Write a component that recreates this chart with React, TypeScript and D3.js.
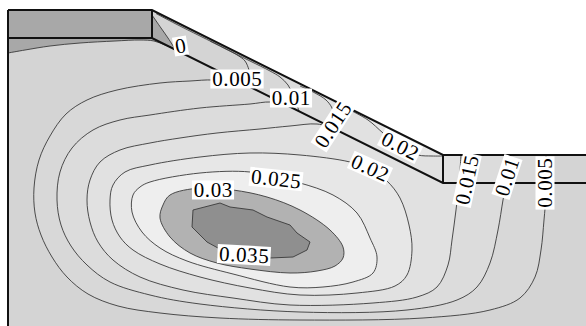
import React, { useEffect } from "react";
import * as d3 from "d3";

type P = [number, number];

const W = 586;
const H = 326;

// Model coordinates: x = distance from the left boundary, y = depth below the crest (reference units)
const groundOutline: P[] = [[0, 0], [144, 0], [435, 145], [578, 145], [578, 316], [0, 316]];
const surfaceLine: P[] = [[0, 0], [144, 0], [435, 145], [578, 145]];
const layerBase: P[] = [[0, 28], [144, 28], [435, 173], [578, 173]];
const crestStep: P[] = [[144, 0], [144, 28]];
const toeStep: P[] = [[435, 145], [435, 173]];
const leftWall: P[] = [[0, 0], [0, 316]];

// contour levels and fill shades (below 0, 0-0.005, ..., above 0.035)
const levels = [0, 0.005, 0.01, 0.015, 0.02, 0.025, 0.03, 0.035];
const shades = ["#a8a8a8", "#d4d4d4", "#d8d8d8", "#dcdcdc", "#e1e1e1", "#e7e7e7", "#eeeeee", "#b2b2b2", "#8f8f8f"];

// contour traces
const band0: P[] = [[144, 5], [153, 18], [160, 28], [167, 39]];
const main0: P[] = [[0, 43], [17, 40], [42, 36], [72, 33], [107, 31], [132, 30], [146, 31], [157, 35], [167, 39]];
const band005: P[] = [[148, 3.5], [167, 13.5], [192, 26], [217, 38.5], [230, 45.5], [237, 51], [241, 60], [243, 70], [244, 78]];
const main005: P[] = [[244, 78], [227, 73], [205, 70], [182, 71], [152, 73], [109, 80], [79, 90], [58, 104], [42, 126], [31, 150], [26, 178], [27, 203], [33, 225], [44, 247], [59, 267], [80, 284], [110, 296], [152, 303], [212, 308], [292, 310], [415, 308], [482, 300], [512, 288], [527, 267], [533, 240], [536, 210], [538, 185], [538, 173], [538, 145]];
const band01: P[] = [[202, 31], [222, 41], [242, 51], [262, 61], [272, 67], [280, 75], [285, 85], [289, 95], [291, 101]];
const main01: P[] = [[291, 101], [277, 95], [262, 92], [242, 94], [192, 98], [142, 105], [112, 110], [85, 120], [64, 138], [52, 162], [49, 190], [53, 215], [63, 236], [79, 255], [102, 272], [142, 285], [192, 294], [292, 302], [399, 300], [449, 290], [469, 277], [482, 253], [490, 220], [495, 190], [498, 173], [499, 145]];
const band015: P[] = [[292, 76], [307, 83], [318, 90], [324, 98], [326, 108], [325, 118]];
const main015: P[] = [[325, 118], [309, 114], [282, 116], [252, 119], [209, 123], [172, 128], [142, 133], [112, 140], [92, 152], [82, 170], [79, 190], [82, 212], [90, 232], [105, 250], [132, 267], [175, 280], [225, 288], [282, 295], [365, 293], [409, 287], [429, 277], [440, 255], [444, 230], [448, 200], [451, 173], [453, 145]];
const band02: P[] = [[342, 100], [360, 110], [375, 123], [392, 137], [410, 145], [424, 146], [435, 146]];
const loop02: P[] = [[142, 155], [192, 147], [242, 143], [292, 145], [342, 152], [362, 159], [379, 171], [392, 188], [401, 215], [404, 240], [399, 265], [387, 276], [349, 283], [292, 285], [242, 278], [192, 267], [152, 254], [125, 240], [112, 227], [104, 210], [102, 190], [105, 175], [117, 162]];
const loop025: P[] = [[142, 172], [192, 163], [242, 162], [268, 168], [292, 173], [325, 185], [349, 203], [362, 228], [369, 247], [365, 263], [345, 272], [315, 277], [282, 277], [225, 264], [179, 251], [152, 238], [134, 222], [124, 202], [125, 185], [132, 177]];
const loop03: P[] = [[162, 185], [192, 178], [225, 180], [259, 187], [292, 200], [322, 220], [335, 237], [335, 248], [327, 256], [309, 261], [282, 263], [242, 259], [209, 253], [182, 243], [162, 227], [152, 208], [155, 195]];
const loop035: P[] = [[185, 200], [212, 193], [222, 197], [245, 200], [259, 207], [282, 215], [289, 223], [302, 232], [299, 240], [285, 247], [262, 248], [242, 247], [219, 243], [199, 232], [184, 217]];

// contour labels
const labelText = ["0", "0.005", "0.01", "0.015", "0.02", "0.02", "0.025", "0.03", "0.035", "0.015", "0.01", "0.005"];
const labelX = [172.5, 229, 283, 325, 392, 362, 268, 205, 236, 459, 499, 537];
const labelY = [36, 69, 88, 115, 136, 158, 169, 180, 245, 170, 167, 173];
const labelAngle = [-10, 0, 0, -57, 27, 24, 6, 0, 3, -78, -72, -90];

const LS = 0.6;
const FS = 21;

function textWidth(s: string) {
  let w = 0;
  for (const c of s) w += c === "." ? FS * 0.25 : FS * 0.5;
  return w + s.length * LS;
}

export default function App() {
  useEffect(() => {
    document.body.style.margin = "0";
  }, []);

  const x = d3.scaleLinear().domain([0, 578]).range([8, 586]);
  const y = d3.scaleLinear().domain([0, 316]).range([10, 326]);
  const slope = d3.scaleLinear().domain([144, 435]).range([0, 145]);

  const smooth = d3.line<P>().x((d) => x(d[0])).y((d) => y(d[1])).curve(d3.curveCatmullRom.alpha(0.5));
  const smoothClosed = d3.line<P>().x((d) => x(d[0])).y((d) => y(d[1])).curve(d3.curveCatmullRomClosed.alpha(0.5));
  const straight = d3.line<P>().x((d) => x(d[0])).y((d) => y(d[1]));
  const straightClosed = d3.line<P>().x((d) => x(d[0])).y((d) => y(d[1])).curve(d3.curveLinearClosed);

  const join = (...parts: string[]) => parts.map((p, i) => (i ? p.replace(/^M/, "L") : p)).join("");
  const tail = (pts: P[]) => pts.map((p) => `L${x(p[0])},${y(p[1])}`).join("") + "Z";

  const groundPath = straightClosed(groundOutline) as string;

  const below0 = join(smooth(band0) as string, smooth([...main0].reverse()) as string) + tail([[0, 0], [144, 0]]);
  const above005 = join(smooth(band005) as string, smooth(main005) as string) + tail([[435, 145], [144, 0]]);
  const above01 = join(smooth(band01) as string, smooth(main01) as string) + tail([[435, 145], [202, slope(202)]]);
  const above015 = join(smooth(band015) as string, smooth(main015) as string) + tail([[435, 145], [292, slope(292)]]);
  const above02band = (smooth(band02) as string) + tail([[435, 145], [342, slope(342)]]);

  const regionFills: [string, string][] = [
    [groundPath, shades[1]],
    [below0, shades[0]],
    [above005, shades[2]],
    [above01, shades[3]],
    [above015, shades[4]],
    [above02band, shades[5]],
    [smoothClosed(loop02) as string, shades[5]],
    [smoothClosed(loop025) as string, shades[6]],
    [smoothClosed(loop03) as string, shades[7]],
    [straightClosed(loop035) as string, shades[8]],
  ];

  const contourLines: string[] = [
    smooth(band0) as string,
    smooth(main0) as string,
    smooth(band005) as string,
    smooth(main005) as string,
    smooth(band01) as string,
    smooth(main01) as string,
    smooth(band015) as string,
    smooth(main015) as string,
    smooth(band02) as string,
    smoothClosed(loop02) as string,
    smoothClosed(loop025) as string,
    smoothClosed(loop03) as string,
    straightClosed(loop035) as string,
  ];

  const structure = [surfaceLine, layerBase, crestStep, toeStep, leftWall].map((l) => straight(l) as string);

  return (
    <svg
      width={W}
      height={H}
      style={{ display: "block", position: "absolute", left: 0, top: 0 }}
    >
      <defs>
        <clipPath id="ground">
          <path d={groundPath} />
        </clipPath>
      </defs>
      <rect width={W} height={H} fill="#ffffff" />
      <g clipPath="url(#ground)">
        {regionFills.map(([d, c], i) => (
          <path key={"f" + i} d={d} fill={c} stroke="none" />
        ))}
        {contourLines.map((d, i) => (
          <path key={"c" + i} d={d} fill="none" stroke="#3a3a3a" strokeWidth={0.9} />
        ))}
      </g>
      {structure.map((d, i) => (
        <path key={"s" + i} d={d} fill="none" stroke="#111" strokeWidth={2} strokeLinejoin="miter" />
      ))}
      {labelText.map((t, i) => {
        const bw = textWidth(t) + 3;
        return (
          <g key={"l" + i} transform={`translate(${x(labelX[i])},${y(labelY[i])}) rotate(${labelAngle[i]})`}>
            <rect x={-bw / 2} y={-9.5} width={bw} height={19} fill="#ffffff" />
            <text
              textAnchor="middle"
              dy="0.33em"
              dx={LS / 2}
              fill="#000"
              fontFamily="Liberation Serif"
              fontSize={FS}
              letterSpacing={LS}
            >
              {t}
            </text>
          </g>
        );
      })}
    </svg>
  );
}
